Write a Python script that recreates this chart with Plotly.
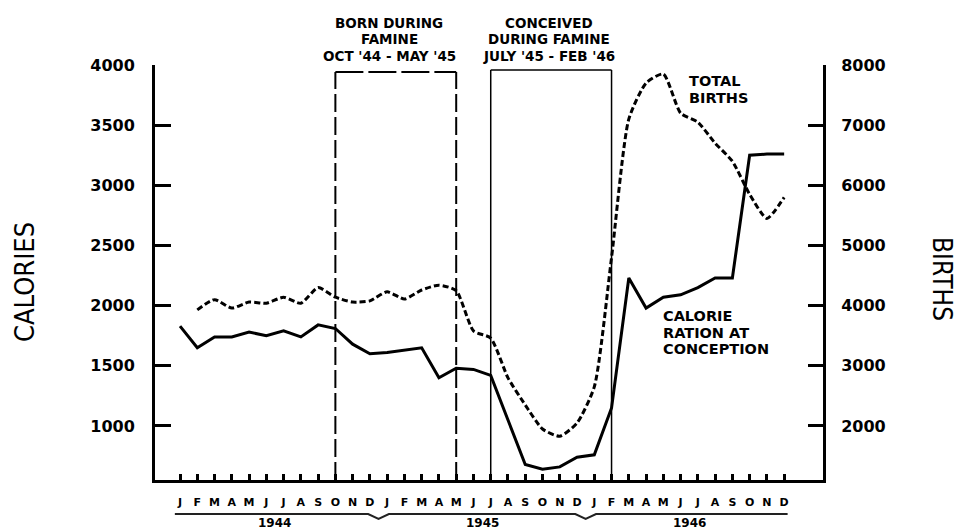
import plotly.graph_objects as go

# ---------------- data ----------------
month_letters = ["J", "F", "M", "A", "M", "J", "J", "A", "S", "O", "N", "D"] * 3
year_labels = ["1944", "1945", "1946"]

calories = [
    1830, 1650, 1740, 1740, 1780, 1750, 1790, 1740, 1840, 1810, 1680, 1600,   # 1944
    1610, 1630, 1650, 1400, 1480, 1470, 1420, 1050, 680, 640, 660, 740,       # 1945
    760, 1150, 2230, 1980, 2070, 2090, 2150, 2230, 2230, 3250, 3260, 3260,    # 1946
]
births = [
    None, 3930, 4100, 3960, 4060, 4040, 4140, 4040, 4300, 4140, 4060, 4080,   # 1944
    4230, 4110, 4260, 4340, 4250, 3580, 3460, 2800, 2350, 1950, 1830, 2050,   # 1945
    2650, 4800, 7100, 7700, 7850, 7200, 7050, 6700, 6400, 5850, 5450, 5800,   # 1946
]

# famine periods as month indices (0 = Jan 1944)
born_period = (9, 16)        # Oct '44 - May '45
conceived_period = (18, 25)  # July '45 - Feb '46

born_lines = ["BORN DURING", "FAMINE", "OCT '44 - MAY '45"]
conceived_lines = ["CONCEIVED", "DURING FAMINE", "JULY '45 - FEB '46"]
births_label = ["TOTAL", "BIRTHS"]
calorie_label = ["CALORIE", "RATION AT", "CONCEPTION"]

x_idx = list(range(len(month_letters)))

W, H = 959, 531
L, R, T, B = 155, 823, 65, 480
BOLD = "DejaVu Sans"
NARROW = "Liberation Sans Narrow, Arial Narrow, DejaVu Sans Condensed, Liberation Sans, Arial, sans-serif"


def px_x(p):
    return (p - L) / (R - L)


def px_y(p):
    return (B - p) / (B - T)


fig = go.Figure()
fig.add_trace(go.Scatter(
    x=x_idx, y=calories, mode="lines",
    line=dict(color="black", width=3),
    yaxis="y", hoverinfo="skip",
))
fig.add_trace(go.Scatter(
    x=x_idx, y=births, mode="lines",
    line=dict(color="black", width=3, dash="6px,3px", shape="spline", smoothing=0.6),
    yaxis="y2", hoverinfo="skip", connectgaps=False,
))

shapes = []
# born during famine box (dashed)
top_born = px_y(72)
for xv in born_period:
    shapes.append(dict(type="line", xref="x", yref="paper", x0=xv, x1=xv, y0=0, y1=top_born,
                       line=dict(color="black", width=2, dash="18px,5px")))
shapes.append(dict(type="line", xref="x", yref="paper", x0=born_period[0], x1=born_period[1],
                   y0=top_born, y1=top_born, line=dict(color="black", width=2, dash="28px,5px")))
# conceived during famine box (thin solid)
top_con = px_y(70)
for xv in conceived_period:
    shapes.append(dict(type="line", xref="x", yref="paper", x0=xv, x1=xv, y0=0, y1=top_con,
                       line=dict(color="black", width=1.5)))
shapes.append(dict(type="line", xref="x", yref="paper", x0=conceived_period[0], x1=conceived_period[1],
                   y0=top_con, y1=top_con, line=dict(color="black", width=1.5)))

# year brace under month labels
yb = px_y(514)
ytip = px_y(519)
n = len(month_letters)
path = f"M -0.3,{yb}"
for k in range(1, len(year_labels)):
    b = 12 * k - 0.5
    path += f" L {b-0.6},{yb} L {b},{ytip} L {b+0.6},{yb}"
path += f" L {n-1+0.2},{yb}"
shapes.append(dict(type="path", xref="x", yref="paper", path=path,
                   line=dict(color="#222", width=2)))

annotations = []
# top period labels
line_y = [22.5, 39, 56.5]
for txt, yy in zip(born_lines, line_y):
    annotations.append(dict(text=txt, xref="paper", yref="paper", x=px_x(389), y=px_y(yy),
                            xanchor="center", yanchor="middle", showarrow=False,
                            font=dict(family=BOLD, size=13.5, color="black", weight="bold")))
for txt, yy in zip(conceived_lines, line_y):
    annotations.append(dict(text=txt, xref="paper", yref="paper", x=px_x(549), y=px_y(yy),
                            xanchor="center", yanchor="middle", showarrow=False,
                            font=dict(family=BOLD, size=13.5, color="black", weight="bold")))
# series labels
for txt, yy in zip(births_label, [81, 98]):
    annotations.append(dict(text=txt, xref="paper", yref="paper", x=px_x(687), y=px_y(yy),
                            xanchor="left", yanchor="middle", showarrow=False,
                            font=dict(family=BOLD, size=14.5, color="black", weight="bold")))
for txt, yy in zip(calorie_label, [316, 332.5, 349]):
    annotations.append(dict(text=txt, xref="paper", yref="paper", x=px_x(661), y=px_y(yy),
                            xanchor="left", yanchor="middle", showarrow=False,
                            font=dict(family=BOLD, size=14.5, color="black", weight="bold")))
# year labels
for k, yl in enumerate(year_labels):
    annotations.append(dict(text=yl, xref="x", yref="paper", x=12 * k + 5.5, y=px_y(522.5),
                            xanchor="center", yanchor="middle", showarrow=False,
                            font=dict(family=BOLD, size=12, color="black", weight="bold")))
# axis titles
annotations.append(dict(text="CALORIES", xref="paper", yref="paper", x=px_x(24), y=px_y(282),
                        xanchor="center", yanchor="middle", showarrow=False, textangle=-90,
                        font=dict(family=NARROW, size=27, color="black")))
annotations.append(dict(text="BIRTHS", xref="paper", yref="paper", x=px_x(942), y=px_y(279),
                        xanchor="center", yanchor="middle", showarrow=False, textangle=90,
                        font=dict(family=NARROW, size=26, color="black")))

axis_common = dict(showgrid=False, zeroline=False, showline=True, linecolor="black", linewidth=3,
                   ticks="inside", tickcolor="black")

fig.update_layout(
    width=W, height=H,
    margin=dict(l=L, r=W - R, t=T, b=H - B, autoexpand=False),
    paper_bgcolor="white", plot_bgcolor="white",
    showlegend=False,
    xaxis=dict(range=[-1.45, 37.25], tickmode="array", tickvals=x_idx, ticktext=month_letters,
               ticklen=6, tickwidth=2.5, ticklabelstandoff=10,
               tickfont=dict(family=BOLD, size=11, color="black", weight="bold"), **axis_common),
    yaxis=dict(range=[551, 4000], tickmode="array", tickvals=[1000, 1500, 2000, 2500, 3000, 3500, 4000],
               ticklen=16, tickwidth=2.5, ticklabelstandoff=14,
               tickfont=dict(family=BOLD, size=16, color="black", weight="bold"), **axis_common),
    yaxis2=dict(range=[1102, 8000], overlaying="y", side="right", anchor="x",
                tickmode="array", tickvals=[2000, 3000, 4000, 5000, 6000, 7000, 8000],
                ticklen=15, tickwidth=2.5, ticklabelstandoff=12,
                tickfont=dict(family=BOLD, size=16, color="black", weight="bold"), **axis_common),
    shapes=shapes,
    annotations=annotations,
)

fig.write_html(
    "out.html",
    config={"displayModeBar": False},
    post_script="document.body.style.margin='0';document.body.style.padding='0';"
                "document.body.style.overflow='hidden';",
)
